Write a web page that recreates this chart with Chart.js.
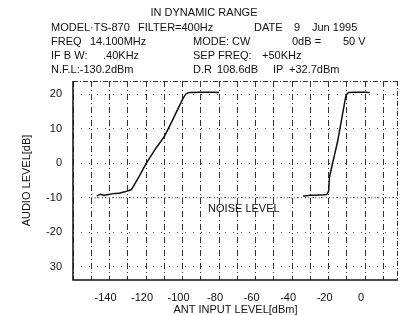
<!DOCTYPE html>
<html>
<head>
<meta charset="utf-8">
<script src="https://cdn.jsdelivr.net/npm/chart.js@4"></script>
<style>
html, body { margin: 0; padding: 0; background: #fff; }
#wrap { width: 401px; height: 315px; position: relative; }
</style>
</head>
<body>
<div id="wrap"><canvas id="chart"></canvas></div>
<script>
// 数据
const xLabelTicks = [-140, -120, -100, -80, -60, -40, -20, 0];
const yTickValues = [20, 10, 0, -10, -20, -30];
const yTickText = ['20', '10', '0', '-10', '-20', '30'];

// 第一条曲线（-50KHz 信号）
const curve1X = [-147, -145, -143, -140, -138, -135, -132, -130, -128, -124, -120, -115, -110, -105, -100, -98, -96, -80];
const curve1Y = [-9.5, -9.0, -9.3, -9.0, -8.8, -8.7, -8.3, -8.0, -7.6, -4.0, -0.2, 4.0, 7.8, 13.0, 18.5, 20.1, 20.5, 20.5];

// 第二条曲线（+50KHz 干扰）
const curve2X = [-34, -30, -25, -21, -20, -19.5, -15, -10.5, -9, 2.5];
const curve2Y = [-9.5, -9.3, -9.2, -9.0, -8.0, -4.0, 6.5, 19.5, 20.5, 20.5];

// 噪声电平
const noiseX = [-150, 18];
const noiseY = [-10, -10];
const noiseLabel = 'NOISE LEVEL';

const headerTitle = 'IN DYNAMIC RANGE';

function toPoints(xs, ys) {
    return xs.map((x, i) => ({ x: x, y: ys[i] }));
}

const FONT = '"Liberation Sans", Arial, sans-serif';

// 标题、参数文字和边框
const headerPlugin = {
    id: 'header',
    afterDraw(chart) {
        const ctx = chart.ctx;
        const a = chart.chartArea;
        ctx.save();

        // 上边和右边虚线框
        ctx.strokeStyle = '#333';
        ctx.lineWidth = 1;
        ctx.setLineDash([5, 2, 1, 2]);
        ctx.beginPath();
        ctx.moveTo(a.left, a.top + 0.5);
        ctx.lineTo(a.right, a.top + 0.5);
        ctx.moveTo(a.right - 0.5, a.top);
        ctx.lineTo(a.right - 0.5, a.bottom);
        ctx.stroke();

        // 左边和下边实线坐标轴
        ctx.setLineDash([]);
        ctx.strokeStyle = '#111';
        ctx.lineWidth = 1.5;
        ctx.beginPath();
        ctx.moveTo(a.left, a.top);
        ctx.lineTo(a.left, a.bottom);
        ctx.lineTo(a.right, a.bottom);
        ctx.stroke();

        ctx.fillStyle = '#111';
        ctx.textBaseline = 'middle';
        ctx.font = '11px ' + FONT;
        ctx.textAlign = 'center';
        ctx.fillText(headerTitle, 204, 13);
        ctx.textAlign = 'left';
        const rows = [
            [[51, 'MODEL·TS-870'], [138, 'FILTER=400Hz'], [254, 'DATE'], [294, '9'], [312, 'Jun 1995']],
            [[51, 'FREQ'], [90, '14.100MHz'], [193, 'MODE: CW'], [292, '0dB ='], [343, '50 V']],
            [[51, 'IF B W:'], [103, '.40KHz'], [193, 'SEP FREQ:'], [262, '+50KHz']],
            [[51, 'N.F.L:-130.2dBm'], [193, 'D.R'], [217, '108.6dB'], [273, 'IP'], [289, '+32.7dBm']]
        ];
        const rowY = [28, 42, 56, 70];
        rows.forEach((row, r) => {
            row.forEach(seg => ctx.fillText(seg[1], seg[0], rowY[r]));
        });

        // 噪声电平标注
        const xs = chart.scales.x, ys = chart.scales.y;
        ctx.fillText(noiseLabel, xs.getPixelForValue(-86), ys.getPixelForValue(-13.2));
        ctx.restore();
    }
};

const lineStyle = {
    borderColor: '#111',
    borderWidth: 1.5,
    pointRadius: 0,
    fill: false,
    tension: 0.15
};

new Chart(document.getElementById('chart'), {
    type: 'line',
    data: {
        datasets: [
            Object.assign({ label: 'curve1', data: toPoints(curve1X, curve1Y) }, lineStyle),
            Object.assign({ label: 'curve2', data: toPoints(curve2X, curve2Y) }, lineStyle),
            {
                label: 'noise',
                data: toPoints(noiseX, noiseY),
                borderColor: '#333',
                borderWidth: 1.2,
                borderDash: [1, 2.5],
                pointRadius: 0,
                fill: false
            }
        ]
    },
    options: {
        responsive: true,
        maintainAspectRatio: false,
        animation: false,
        layout: { padding: { top: 81, right: 3, left: 0, bottom: 0 } },
        plugins: {
            legend: { display: false },
            tooltip: { enabled: false }
        },
        scales: {
            x: {
                type: 'linear',
                min: -160,
                max: 18,
                afterFit: function(scale) { scale.height = 35; },
                ticks: {
                    stepSize: 10,
                    includeBounds: false,
                    autoSkip: false,
                    maxRotation: 0,
                    padding: 11,
                    labelOffset: -4,
                    color: '#111',
                    font: { family: FONT, size: 11 },
                    callback: function(value) {
                        return xLabelTicks.includes(value) ? String(value) : '';
                    }
                },
                grid: {
                    color: '#333',
                    lineWidth: 1,
                    drawTicks: false
                },
                border: { display: false, dash: [6, 3, 1, 3] },
                title: {
                    display: true,
                    text: 'ANT INPUT LEVEL[dBm]',
                    color: '#111',
                    font: { family: FONT, size: 11 },
                    padding: { top: 0, bottom: -2 }
                }
            },
            y: {
                type: 'linear',
                min: -33.8,
                max: 23.8,
                afterFit: function(scale) { scale.width = 73; },
                afterBuildTicks: function(scale) {
                    scale.ticks = yTickValues.map(v => ({ value: v }));
                },
                ticks: {
                    padding: 11,
                    color: '#111',
                    font: { family: FONT, size: 11 },
                    callback: function(value) {
                        const i = yTickValues.indexOf(value);
                        return i >= 0 ? yTickText[i] : '';
                    }
                },
                grid: {
                    color: '#444',
                    lineWidth: 1,
                    drawTicks: false
                },
                border: { display: false, dash: [1, 7] },
                title: {
                    display: true,
                    text: 'AUDIO LEVEL[dB]',
                    color: '#111',
                    font: { family: FONT, size: 11 },
                    padding: { top: 20, bottom: 0 }
                }
            }
        }
    },
    plugins: [headerPlugin]
});
</script>
</body>
</html>
